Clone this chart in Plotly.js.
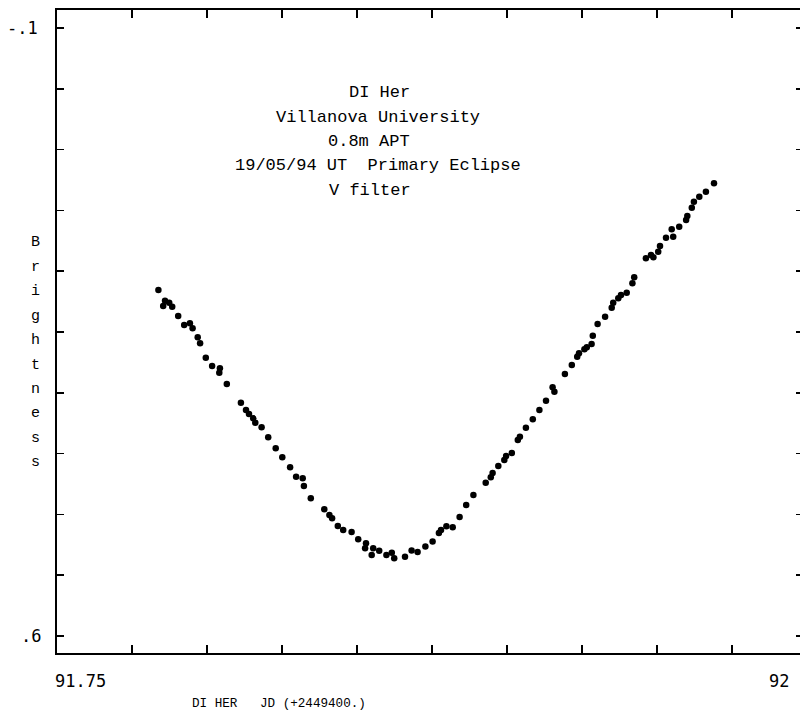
<!DOCTYPE html>
<html>
<head>
<meta charset="utf-8">
<script src="https://cdn.plot.ly/plotly-3.0.1.min.js"></script>
<style>html,body{margin:0;padding:0;background:#fff;overflow:hidden;}#chart{width:803px;height:718px;}</style>
</head>
<body>
<div id="chart"></div>
<script>
// Julian date (minus 2449400) of each observation
const jd = [
  91.7838, 91.7854, 91.7860, 91.7874, 91.7884, 91.7904, 91.7924, 91.7943, 91.7952, 91.7969,
  91.7977, 91.7996, 91.8017, 91.8041, 91.8043, 91.8066, 91.8113, 91.8130, 91.8140, 91.8154,
  91.8161, 91.8182, 91.8204, 91.8229, 91.8251, 91.8277, 91.8297, 91.8319, 91.8323, 91.8346,
  91.8391, 91.8408, 91.8417, 91.8436, 91.8454, 91.8482, 91.8504, 91.8530, 91.8527, 91.8549,
  91.8554, 91.8574, 91.8598, 91.8616, 91.8624, 91.8660, 91.8682, 91.8702, 91.8728, 91.8752,
  91.8773, 91.8780, 91.8798, 91.8819, 91.8842, 91.8864, 91.8888, 91.8929, 91.8946, 91.8952,
  91.8971, 91.8991, 91.8997, 91.9016, 91.9036, 91.9043, 91.9063, 91.9086, 91.9108, 91.9130,
  91.9152, 91.9158, 91.9193, 91.9216, 91.9234, 91.9240, 91.9258, 91.9266, 91.9282, 91.9286,
  91.9302, 91.9327, 91.9349, 91.9354, 91.9371, 91.9380, 91.9399, 91.9418, 91.9424, 91.9463,
  91.9480, 91.9488, 91.9504, 91.9510, 91.9530, 91.9549, 91.9554, 91.9574, 91.9597, 91.9601,
  91.9616, 91.9623, 91.9641, 91.9663, 91.9690
];
// differential V magnitude (brightness axis, reversed)
const mag = [
  0.2016, 0.2201, 0.2140, 0.2163, 0.2209, 0.2316, 0.2419, 0.2400, 0.2457, 0.2561,
  0.2630, 0.2796, 0.2891, 0.2969, 0.2918, 0.3099, 0.3314, 0.3398, 0.3444, 0.3494,
  0.3544, 0.3597, 0.3712, 0.3839, 0.3943, 0.4058, 0.4166, 0.4184, 0.4273, 0.4415,
  0.4541, 0.4607, 0.4645, 0.4733, 0.4780, 0.4803, 0.4887, 0.4933, 0.4990, 0.5067,
  0.4990, 0.5018, 0.5067, 0.5041, 0.5105, 0.5087, 0.5016, 0.5033, 0.4970, 0.4912,
  0.4814, 0.4780, 0.4737, 0.4749, 0.4630, 0.4492, 0.4377, 0.4235, 0.4173, 0.4123,
  0.4043, 0.3974, 0.3928, 0.3893, 0.3743, 0.3705, 0.3602, 0.3505, 0.3398, 0.3291,
  0.3137, 0.3187, 0.2984, 0.2880, 0.2784, 0.2745, 0.2699, 0.2676, 0.2638, 0.2543,
  0.2408, 0.2324, 0.2220, 0.2163, 0.2112, 0.2074, 0.2047, 0.1939, 0.1870, 0.1651,
  0.1613, 0.1640, 0.1575, 0.1510, 0.1414, 0.1318, 0.1403, 0.1288, 0.1210, 0.1164,
  0.1069, 0.1000, 0.0942, 0.0885, 0.0788
];
const titleLines = ["DI Her", "Villanova University", "0.8m APT", "19/05/94 UT  Primary Eclipse", "V filter"];
const xTitle = "DI HER   JD (+2449400.)";
const yTitle = "Brightness";
const xTickLabels = ["91.75", "92"];
const yTickLabels = ["-.1", ".6"];
const yTickVals = [-0.1, 0.6];

const W = 803, H = 718;
const L = 57, R = 0, T = 10, B = 65;
const pw = W - L - R, ph = H - T - B;
const px = x => (x - L) / pw;            // pixel -> paper x
const py = y => 1 - (y - T) / ph;        // pixel -> paper y

const mono = "Liberation Mono, DejaVu Sans Mono, monospace";
const tickFont = {family: "DejaVu Sans Mono, monospace", size: 17, color: "#000"};

const annotations = [];
const titleLeft = [347, 274, 326, 233, 327];
titleLines.forEach((t, i) => {
  annotations.push({xref: "paper", yref: "paper", x: px(titleLeft[i]), y: py(93 + i * 24.3),
    xanchor: "left", yanchor: "middle", text: t, showarrow: false,
    font: {family: mono, size: 17, color: "#000"}});
});
yTitle.split("").forEach((c, i) => {
  annotations.push({xref: "paper", yref: "paper", x: px(35), y: py(243 + i * 24.4),
    xanchor: "center", yanchor: "middle", text: c, showarrow: false,
    font: {family: mono, size: 15, color: "#000"}});
});
annotations.push({xref: "paper", yref: "paper", x: px(190), y: py(704), xanchor: "left", yanchor: "middle",
  text: xTitle, showarrow: false, font: {family: mono, size: 12.6, color: "#000"}});
annotations.push({xref: "paper", yref: "paper", x: px(80), y: py(681), xanchor: "center", yanchor: "middle",
  text: xTickLabels[0], showarrow: false, font: tickFont});
annotations.push({xref: "paper", yref: "paper", x: px(779), y: py(681), xanchor: "center", yanchor: "middle",
  text: xTickLabels[1], showarrow: false, font: tickFont});
annotations.push({xref: "paper", yref: "y", x: px(40), y: yTickVals[0], xanchor: "right", yanchor: "middle",
  text: yTickLabels[0], showarrow: false, font: tickFont});
annotations.push({xref: "paper", yref: "y", x: px(43), y: yTickVals[1], xanchor: "right", yanchor: "middle",
  text: yTickLabels[1], showarrow: false, font: tickFont});

const trace = {
  x: jd, y: mag, type: "scatter", mode: "markers",
  marker: {color: "#000", size: 6.5, line: {width: 0}},
  hoverinfo: "skip"
};

const layout = {
  width: W, height: H,
  margin: {l: L, r: R, t: T, b: B, pad: 0},
  paper_bgcolor: "#fff", plot_bgcolor: "#fff",
  showlegend: false,
  xaxis: {
    range: [91.75, 91.75 + 0.025 * pw / 75],
    tick0: 91.75, dtick: 0.025, tickmode: "linear",
    ticks: "inside", ticklen: 8, tickwidth: 1.5, tickcolor: "#000",
    showticklabels: false, showgrid: false, zeroline: false,
    showline: true, linecolor: "#000", linewidth: 2, mirror: "ticks"
  },
  yaxis: {
    range: [0.6 + 0.07 * 17 / 60.8, -0.1 - 0.07 * 18 / 60.8],
    tick0: -0.1, dtick: 0.07, tickmode: "linear",
    ticks: "inside", ticklen: 7, tickwidth: 1.5, tickcolor: "#000",
    showticklabels: false, showgrid: false, zeroline: false,
    showline: true, linecolor: "#000", linewidth: 2, mirror: "ticks"
  },
  annotations: annotations
};

Plotly.newPlot("chart", [trace], layout, {staticPlot: true, displayModeBar: false});
</script>
</body>
</html>
